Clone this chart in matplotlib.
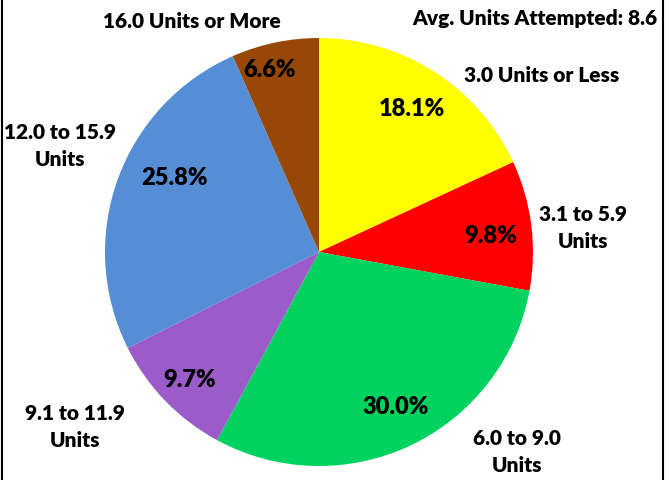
import matplotlib.pyplot as plt
from matplotlib.lines import Line2D

# Data
categories = ['3.0 Units or Less', '3.1 to 5.9\nUnits', '6.0 to 9.0\nUnits',
              '9.1 to 11.9\nUnits', '12.0 to 15.9\nUnits', '16.0 Units or More']
shares = [18.1, 9.8, 30.0, 9.7, 25.8, 6.6]
colors = ['#FFFF00', '#FF0000', '#00D260', '#9B5BC9', '#558ED5', '#974806']
avg_units = 8.6

plt.rcParams['font.family'] = ['Lato', 'DejaVu Sans']

fig = plt.figure(figsize=(6.69, 4.8), dpi=100)
ax = fig.add_axes([0, 0, 1, 1])

# pixel -> data helpers (pie radius = 1, centre at pixel (319, 252))
R = 214.0
cx, cy = 319.0, 252.0
def px(x, y):
    return (x - cx) / R, (cy - y) / R

wedges, texts, pcts = ax.pie(shares, colors=colors, startangle=90, counterclock=False,
                             labels=categories, autopct='%.1f%%',
                             wedgeprops=dict(linewidth=0),
                             textprops=dict(fontweight=800))

# label / percentage placement (pixel positions from the reference)
label_pos = [(542, 75), (583, 228), (517, 452), (75, 427), (60, 146), (192, 22)]
pct_pos = [(412, 109), (491, 236), (396, 407), (190, 380), (175, 178), (270, 70)]
for t, p in zip(texts, label_pos):
    t.set_position(px(*p))
    t.set_ha('center')
    t.set_va('center')
    t.set_fontsize(15)
    t.set_linespacing(1.55)
for t, p in zip(pcts, pct_pos):
    t.set_position(px(*p))
    t.set_ha('center')
    t.set_va('center')
    t.set_fontsize(17)

ax.text(*px(535, 18), f'Avg. Units Attempted: {avg_units}', ha='center', va='center',
        fontsize=15, fontweight=800)

ax.set_xlim(-cx / R, (669 - cx) / R)
ax.set_ylim(-(480 - cy) / R, cy / R)
ax.set_aspect('equal')
ax.axis('off')

# side frame lines
fig.add_artist(Line2D([0.003, 0.003], [0, 1], color='black', lw=1.5, transform=fig.transFigure))
fig.add_artist(Line2D([0.991, 0.991], [0, 1], color='black', lw=1.5, transform=fig.transFigure))

fig.savefig('out.png', dpi=100)
